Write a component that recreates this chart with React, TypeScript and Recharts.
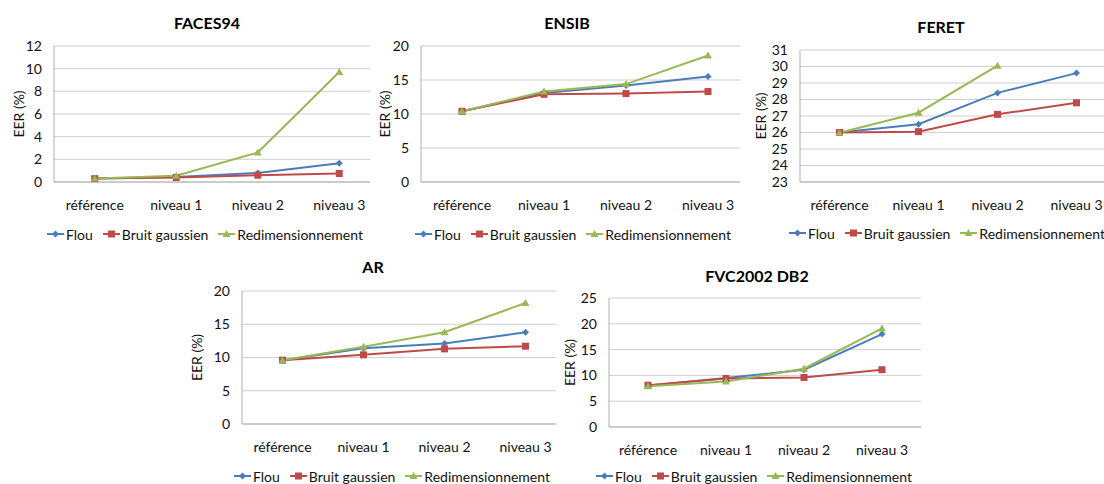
import React from 'react';
import { LineChart, Line, XAxis, YAxis, CartesianGrid } from 'recharts';

const CATEGORIES = ['référence', 'niveau 1', 'niveau 2', 'niveau 3'];
const SERIES = ['Flou', 'Bruit gaussien', 'Redimensionnement'];
const COLORS = ['#4A7EBB', '#BE4B48', '#98B954'];
const SHAPES = ['diamond', 'square', 'triangle'];

// EER (%) per dataset, one array per series
const FACES94_FLOU = [0.3, 0.45, 0.8, 1.65];
const FACES94_BRUIT = [0.3, 0.4, 0.6, 0.75];
const FACES94_REDIM = [0.3, 0.55, 2.6, 9.7];
const FACES94_TICKS = [0, 2, 4, 6, 8, 10, 12];

const ENSIB_FLOU = [10.4, 13.1, 14.2, 15.5];
const ENSIB_BRUIT = [10.4, 12.9, 13.0, 13.3];
const ENSIB_REDIM = [10.4, 13.3, 14.4, 18.6];
const ENSIB_TICKS = [0, 5, 10, 15, 20];

const FERET_FLOU = [26.0, 26.5, 28.4, 29.6];
const FERET_BRUIT = [26.0, 26.05, 27.1, 27.8];
const FERET_REDIM = [25.98, 27.2, 30.05, null];
const FERET_TICKS = [23, 24, 25, 26, 27, 28, 29, 30, 31];

const AR_FLOU = [9.6, 11.4, 12.1, 13.8];
const AR_BRUIT = [9.6, 10.4, 11.3, 11.7];
const AR_REDIM = [9.6, 11.6, 13.8, 18.2];
const AR_TICKS = [0, 5, 10, 15, 20];

const FVC_FLOU = [8.0, 9.5, 11.1, 18.0];
const FVC_BRUIT = [8.1, 9.4, 9.6, 11.1];
const FVC_REDIM = [7.9, 8.8, 11.3, 19.1];
const FVC_TICKS = [0, 5, 10, 15, 20, 25];

const FONT = 'Lato, "Open Sans", sans-serif';
const INK = '#111';

function Marker({ shape, cx, cy, color }: { shape: string; cx: number; cy: number; color: string }) {
  if (shape === 'diamond') {
    return <path d={`M${cx},${cy - 3.5}L${cx + 3.5},${cy}L${cx},${cy + 3.5}L${cx - 3.5},${cy}Z`} fill={color} />;
  }
  if (shape === 'square') {
    return <rect x={cx - 3.5} y={cy - 3.5} width={7} height={7} fill={color} />;
  }
  return <path d={`M${cx},${cy - 4}L${cx + 4},${cy + 3}L${cx - 4},${cy + 3}Z`} fill={color} />;
}

const makeDot = (shape: string, color: string) => (props: any) => {
  const { cx, cy, index, value } = props;
  if (cx == null || cy == null || value == null) return <g key={`d-${index}`} />;
  return <Marker key={`d-${index}`} shape={shape} cx={cx} cy={cy} color={color} />;
};

function LegendRow({ cx, cy }: { cx: number; cy: number }) {
  return (
    <div
      style={{
        position: 'absolute', left: cx - 200, top: cy - 10, width: 400, height: 20,
        display: 'flex', justifyContent: 'center', alignItems: 'center',
        fontFamily: FONT, fontSize: 14, color: INK, whiteSpace: 'nowrap',
      }}
    >
      {SERIES.map((s, i) => (
        <div key={s} style={{ display: 'flex', alignItems: 'center', marginLeft: i ? 10 : 0 }}>
          <svg width={17} height={10} style={{ marginRight: 2 }}>
            <line x1={0} y1={5} x2={17} y2={5} stroke={COLORS[i]} strokeWidth={2} />
            <Marker shape={SHAPES[i]} cx={8.5} cy={5} color={COLORS[i]} />
          </svg>
          <span>{s}</span>
        </div>
      ))}
    </div>
  );
}

interface PanelProps {
  title: string;
  x0: number; y0: number; clipW: number; clipH: number;
  plotL: number; plotR: number; plotT: number; plotB: number;
  titleCx: number; titleCy: number; legendCx: number; legendCy: number; yLabelCx: number;
  ticks: number[];
  flou: (number | null)[]; bruit: (number | null)[]; redim: (number | null)[];
}

function Panel(p: PanelProps) {
  const data = CATEGORIES.map((c, i) => ({
    cat: c,
    [SERIES[0]]: p.flou[i],
    [SERIES[1]]: p.bruit[i],
    [SERIES[2]]: p.redim[i],
  }));
  const width = p.plotR - p.x0 + 2;
  const height = p.clipH;
  const band = (p.plotR - p.plotL) / 4;
  const xAxisH = height - (p.plotB - p.y0);
  const tickStyle = { fontFamily: FONT, fontSize: 14, fill: INK };
  return (
    <div style={{ position: 'absolute', left: p.x0, top: p.y0, width: p.clipW, height: p.clipH, overflow: 'hidden' }}>
      <div
        style={{
          position: 'absolute', left: p.titleCx - p.x0 - 100, top: p.titleCy - p.y0 - 11, width: 200,
          textAlign: 'center', fontFamily: FONT, fontWeight: 700, fontSize: 16, lineHeight: '22px', color: '#000',
        }}
      >
        {p.title}
      </div>
      <LineChart width={width} height={height} data={data} margin={{ top: p.plotT - p.y0, right: 2, bottom: 0, left: 0 }}>
        <CartesianGrid vertical={false} stroke="#cfcfcf" strokeWidth={1} />
        <XAxis
          dataKey="cat"
          height={xAxisH}
          padding={{ left: band / 2, right: band / 2 }}
          tickLine={false}
          tickSize={0}
          tickMargin={18}
          axisLine={{ stroke: '#b0b0b0' }}
          tick={tickStyle}
          interval={0}
        />
        <YAxis
          width={p.plotL - p.x0}
          domain={[p.ticks[0], p.ticks[p.ticks.length - 1]]}
          ticks={p.ticks}
          interval={0}
          tickLine={false}
          tickSize={0}
          tickMargin={12}
          axisLine={{ stroke: '#b0b0b0' }}
          tick={tickStyle}
          label={{
            value: 'EER (%)', angle: -90, position: 'insideLeft', offset: p.yLabelCx - p.x0,
            style: { textAnchor: 'middle', fontFamily: FONT, fontSize: 14, fill: INK },
          }}
        />
        {SERIES.map((s, i) => (
          <Line
            key={s}
            dataKey={s}
            stroke={COLORS[i]}
            strokeWidth={2}
            dot={makeDot(SHAPES[i], COLORS[i])}
            activeDot={false}
            isAnimationActive={false}
            type="linear"
          />
        ))}
      </LineChart>
      <LegendRow cx={p.legendCx - p.x0} cy={p.legendCy - p.y0} />
    </div>
  );
}

export default function App() {
  return (
    <div style={{ position: 'absolute', left: 0, top: 0, width: 1104, height: 484, background: '#fff', overflow: 'hidden' }}>
      <Panel title="FACES94" x0={0} y0={0} clipW={370} clipH={245}
        plotL={54} plotR={380} plotT={46} plotB={182}
        titleCx={207} titleCy={23} legendCx={205} legendCy={234} yLabelCx={19}
        ticks={FACES94_TICKS} flou={FACES94_FLOU} bruit={FACES94_BRUIT} redim={FACES94_REDIM} />
      <Panel title="ENSIB" x0={370} y0={0} clipW={370} clipH={245}
        plotL={421} plotR={749} plotT={46} plotB={182}
        titleCx={567} titleCy={23} legendCx={573} legendCy={234} yLabelCx={385}
        ticks={ENSIB_TICKS} flou={ENSIB_FLOU} bruit={ENSIB_BRUIT} redim={ENSIB_REDIM} />
      <Panel title="FERET" x0={742} y0={0} clipW={362} clipH={245}
        plotL={800} plotR={1116} plotT={50} plotB={182}
        titleCx={941} titleCy={27} legendCx={947} legendCy={233} yLabelCx={761}
        ticks={FERET_TICKS} flou={FERET_FLOU} bruit={FERET_BRUIT} redim={FERET_REDIM} />
      <Panel title="AR" x0={185} y0={250} clipW={371} clipH={234}
        plotL={242} plotR={566} plotT={291} plotB={424}
        titleCx={373} titleCy={267} legendCx={392} legendCy={476} yLabelCx={197}
        ticks={AR_TICKS} flou={AR_FLOU} bruit={AR_BRUIT} redim={AR_REDIM} />
      <Panel title="FVC2002 DB2" x0={556} y0={250} clipW={380} clipH={234}
        plotL={609} plotR={921} plotT={298} plotB={427}
        titleCx={757} titleCy={276} legendCx={754} legendCy={476} yLabelCx={570}
        ticks={FVC_TICKS} flou={FVC_FLOU} bruit={FVC_BRUIT} redim={FVC_REDIM} />
    </div>
  );
}
